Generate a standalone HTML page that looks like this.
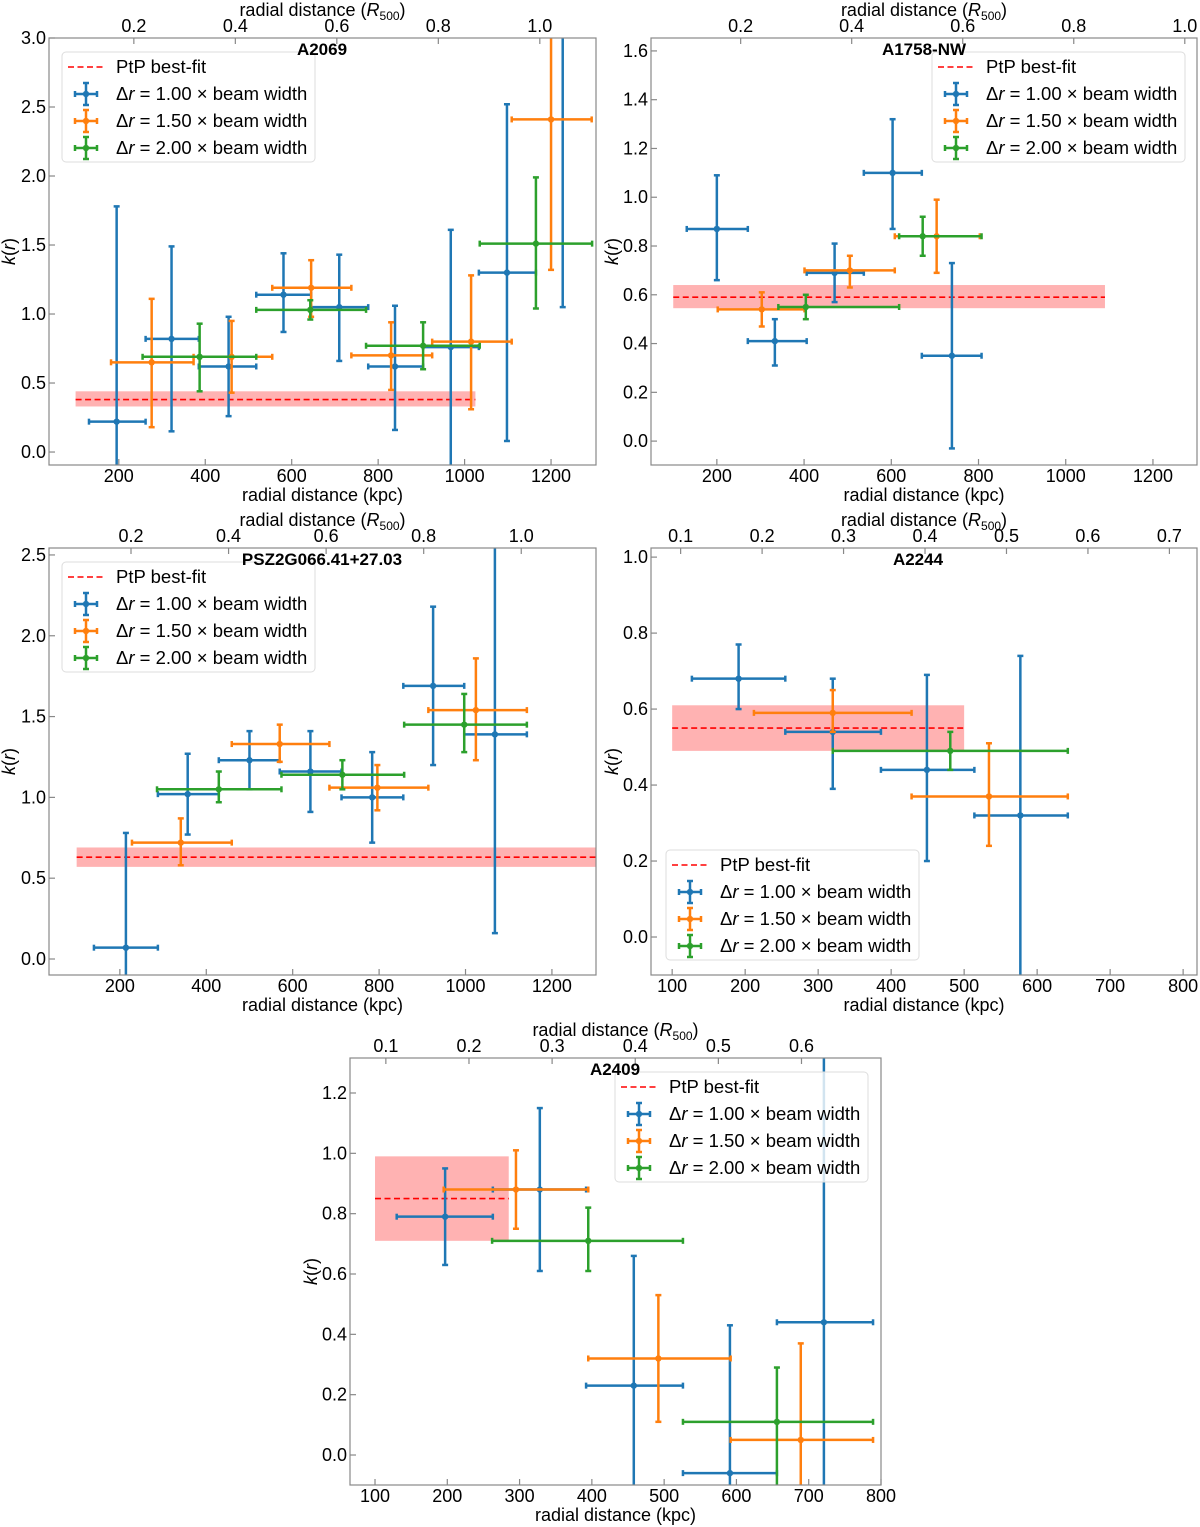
<!DOCTYPE html>
<html><head><meta charset="utf-8">
<style>
html,body{margin:0;padding:0;background:#fff;width:1200px;height:1527px;overflow:hidden;}
svg{display:block;font-family:"Liberation Sans","DejaVu Sans",sans-serif;}
</style></head>
<body>
<svg id="fig" width="1200" height="1527" viewBox="0 0 1200 1527" xmlns="http://www.w3.org/2000/svg"></svg>
<script>
// ---- data: [x, xlo, xhi, y, ylo, yhi] in kpc / k(r) ----
const a2069_blue = [[195,131,262,0.22,-0.5,1.78],[322,262,385,0.82,0.15,1.49],[454,385,518,0.62,0.26,0.98],[581,518,645,1.14,0.87,1.44],[710,645,777,1.05,0.66,1.43],[839,777,904,0.62,0.16,1.06],[968,904,1033,0.76,-0.5,1.61],[1098,1033,1165,1.30,0.08,2.52],[1227,1165,1290,3.3,1.05,4.0]];
const a2069_orange = [[276,182,373,0.65,0.18,1.11],[461,373,555,0.69,0.43,0.95],[645,555,738,1.19,0.98,1.39],[830,738,925,0.70,0.45,0.94],[1015,925,1109,0.80,0.31,1.28],[1200,1109,1294,2.41,1.32,3.5]];
const a2069_green = [[387,255,518,0.69,0.44,0.93],[643,518,772,1.03,0.96,1.10],[904,772,1035,0.77,0.60,0.94],[1165,1035,1295,1.51,1.04,1.99]];
const a2069_fit = [100,1025,0.38,0.33,0.44];

const a1758_blue = [[200,131,271,0.87,0.66,1.09],[333,271,406,0.41,0.31,0.50],[470,406,537,0.69,0.57,0.81],[603,537,670,1.10,0.87,1.32],[739,670,807,0.35,-0.03,0.73]];
const a1758_orange = [[303,202,401,0.54,0.47,0.61],[505,401,608,0.70,0.63,0.76],[704,608,803,0.84,0.69,0.99]];
const a1758_green = [[404,341,618,0.55,0.50,0.60],[672,618,807,0.84,0.76,0.92]];
const a1758_fit = [100,1090,0.59,0.545,0.64];

const psz_blue = [[214,140,288,0.07,-0.5,0.78],[357,288,429,1.02,0.77,1.27],[500,429,570,1.23,1.05,1.41],[641,570,713,1.16,0.91,1.41],[784,713,856,1.00,0.72,1.28],[925,856,997,1.69,1.20,2.18],[1068,997,1142,1.39,0.16,3.0]];
const psz_orange = [[341,228,459,0.72,0.58,0.87],[570,459,685,1.33,1.22,1.45],[796,685,914,1.06,0.92,1.20],[1024,914,1142,1.54,1.23,1.86]];
const psz_green = [[429,286,574,1.05,0.97,1.16],[715,574,858,1.14,1.05,1.23],[997,858,1142,1.45,1.28,1.64]];
const psz_fit = [100,1310,0.63,0.57,0.69];

const a2244_blue = [[191,127,255,0.68,0.60,0.77],[320,255,386,0.54,0.39,0.68],[449,386,514,0.44,0.20,0.69],[577,514,642,0.32,-0.5,0.74]];
const a2244_orange = [[320,212,428,0.59,0.54,0.65],[534,428,642,0.37,0.24,0.51]];
const a2244_green = [[481,320,642,0.49,0.44,0.54]];
const a2244_fit = [100,500,0.55,0.49,0.61];

const a2409_blue = [[197,130,263,0.79,0.63,0.95],[328,263,392,0.88,0.61,1.15],[458,392,526,0.23,-0.5,0.66],[591,526,656,-0.06,-0.5,0.43],[721,656,789,0.44,-0.5,1.5]];
const a2409_orange = [[295,195,395,0.88,0.75,1.01],[492,395,592,0.32,0.11,0.53],[689,592,789,0.05,-0.5,0.37]];
const a2409_green = [[395,262,526,0.71,0.61,0.82],[656,526,789,0.11,-0.5,0.29]];
const a2409_fit = [100,285,0.85,0.71,0.99];

const legendFactors = ["1.00","1.50","2.00"];

const C = {blue:"#1f77b4",orange:"#ff7f0e",green:"#2ca02c"};
const NS = "http://www.w3.org/2000/svg";
const fig = document.getElementById('fig');
function mk(tag, attrs, parent, text){
  const e = document.createElementNS(NS, tag);
  for (const k in attrs) e.setAttribute(k, attrs[k]);
  if (text !== undefined) e.textContent = text;
  (parent||fig).appendChild(e);
  return e;
}

const panels = [
 {id:'a2069',title:'A2069',tx:322,box:[49,38,596,465],xlim:[38.5,1304],ylim:[-0.094,3.0],xt:[200,400,600,800,1000,1200],yt:[0,0.5,1,1.5,2,2.5,3],r500:1174,tt:[0.2,0.4,0.6,0.8,1.0],leg:[62,52],ylx:9,s:[a2069_blue,a2069_orange,a2069_green],fit:a2069_fit},
 {id:'a1758',title:'A1758-NW',tx:924,box:[651,38,1197,465],xlim:[49,1301],ylim:[-0.098,1.653],xt:[200,400,600,800,1000,1200],yt:[0,0.2,0.4,0.6,0.8,1.0,1.2,1.4,1.6],r500:1273,tt:[0.2,0.4,0.6,0.8,1.0],leg:[932,52],ylx:612,s:[a1758_blue,a1758_orange,a1758_green],fit:a1758_fit},
 {id:'psz',title:'PSZ2G066.41+27.03',tx:322,box:[49,548,596,975],xlim:[36,1302],ylim:[-0.099,2.543],xt:[200,400,600,800,1000,1200],yt:[0,0.5,1,1.5,2,2.5],r500:1129,tt:[0.2,0.4,0.6,0.8,1.0],leg:[62,562],ylx:9,s:[psz_blue,psz_orange,psz_green],fit:psz_fit},
 {id:'a2244',title:'A2244',tx:918,box:[651,548,1197,975],xlim:[71,819],ylim:[-0.1,1.024],xt:[100,200,300,400,500,600,700,800],yt:[0,0.2,0.4,0.6,0.8,1.0],r500:1116,tt:[0.1,0.2,0.3,0.4,0.5,0.6,0.7],leg:[666,850],ylx:612,s:[a2244_blue,a2244_orange,a2244_green],fit:a2244_fit},
 {id:'a2409',title:'A2409',tx:615,box:[350,1058,881,1485],xlim:[65.4,800],ylim:[-0.0994,1.316],xt:[100,200,300,400,500,600,700,800],yt:[0,0.2,0.4,0.6,0.8,1.0,1.2],r500:1150,tt:[0.1,0.2,0.3,0.4,0.5,0.6],leg:[615,1072],ylx:311,s:[a2409_blue,a2409_orange,a2409_green],fit:a2409_fit}
];

function seg(g,x1,y1,x2,y2,color){
  const l = mk('line',{x1:x1,y1:y1,x2:x2,y2:y2,stroke:color,'stroke-width':2.5},g);
  
  
  return l;
}

panels.forEach(p=>{
  const [L,T,R,B] = p.box;
  const X = v => L + (v-p.xlim[0])/(p.xlim[1]-p.xlim[0])*(R-L);
  const Y = v => B - (v-p.ylim[0])/(p.ylim[1]-p.ylim[0])*(B-T);
  const cx_ = v => Math.max(L, Math.min(R, X(v)));
  const cy_ = v => Math.max(T, Math.min(B, Y(v)));
  const inX = v => X(v) >= L-0.5 && X(v) <= R+0.5;
  const inY = v => Y(v) >= T-0.5 && Y(v) <= B+0.5;
  const g = mk('g',{});
  
  
  const plot = mk('g',{},g);
  const f = p.fit;
  const bx0 = cx_(f[0]), bx1 = cx_(f[1]);
  const band = mk('rect',{x:bx0,y:cy_(f[4]),width:bx1-bx0,height:cy_(f[3])-cy_(f[4]),fill:'#ff0000','fill-opacity':0.3},plot);
  
  
  const fl = mk('line',{x1:bx0,y1:Y(f[2]),x2:bx1,y2:Y(f[2]),stroke:'#ff0000','stroke-width':1.6,'stroke-dasharray':'6,3.5'},plot);
  
  
  ['blue','orange','green'].forEach((cn,si)=>{
    const col = C[cn];
    const sg = mk('g',{},plot);
    
    
    p.s[si].forEach(d=>{
      const yc = Y(d[3]);
      // horizontal bar
      if (inY(d[3])){
        seg(sg,cx_(d[1]),yc,cx_(d[2]),yc,col);
        if (inX(d[1])) mk('line',{x1:X(d[1]),y1:yc-3,x2:X(d[1]),y2:yc+3,stroke:col,'stroke-width':2.5},sg);
        if (inX(d[2])) mk('line',{x1:X(d[2]),y1:yc-3,x2:X(d[2]),y2:yc+3,stroke:col,'stroke-width':2.5},sg);
      }
      // vertical bar
      const xc = X(d[0]);
      seg(sg,xc,cy_(d[4]),xc,cy_(d[5]),col);
      if (inY(d[4])) mk('line',{x1:xc-3,y1:Y(d[4]),x2:xc+3,y2:Y(d[4]),stroke:col,'stroke-width':2.5},sg);
      if (inY(d[5])) mk('line',{x1:xc-3,y1:Y(d[5]),x2:xc+3,y2:Y(d[5]),stroke:col,'stroke-width':2.5},sg);
      if (inY(d[3])){
        const pt = mk('circle',{cx:xc,cy:yc,r:3.2,fill:col},sg);
        
        
      }
    });
  });
  const fr = mk('rect',{x:L,y:T,width:R-L,height:B-T,fill:'none',stroke:'#888','stroke-width':1.2},g);
  
  
  p.xt.forEach(v=>{
    const x = X(v);
    mk('line',{x1:x,y1:B,x2:x,y2:B-6,stroke:'#888','stroke-width':1.2},g);
    const t = mk('text',{x:x,y:B+17,'font-size':18,'text-anchor':'middle',fill:'#000'},g,String(v));
    
    
  });
  p.yt.forEach(v=>{
    const y = Y(v);
    mk('line',{x1:L,y1:y,x2:L+6,y2:y,stroke:'#888','stroke-width':1.2},g);
    const t = mk('text',{x:L-3,y:y+6,'font-size':18,'text-anchor':'end',fill:'#000'},g,v.toFixed(1));
    
    
  });
  p.tt.forEach(v=>{
    const x = X(v*p.r500);
    mk('line',{x1:x,y1:T,x2:x,y2:T+6,stroke:'#888','stroke-width':1.2},g);
    const t = mk('text',{x:x,y:T-6,'font-size':18,'text-anchor':'middle',fill:'#000'},g,v.toFixed(1));
    
    
  });
  const cx = (L+R)/2;
  const xl = mk('text',{x:cx,y:B+36,'font-size':18,'text-anchor':'middle'},g,'radial distance (kpc)');
  
  
  const tl = mk('text',{x:cx,y:T-22,'font-size':18,'text-anchor':'middle'},g);
  
  
  mk('tspan',{},tl,'radial distance (');
  mk('tspan',{'font-style':'italic'},tl,'R');
  mk('tspan',{'font-size':12,dy:4},tl,'500');
  mk('tspan',{dy:-4},tl,')');
  const yl = mk('text',{x:0,y:0,'font-size':18,'text-anchor':'middle',transform:'translate('+(p.ylx+6)+','+((T+B)/2)+') rotate(-90)'},g);
  
  
  mk('tspan',{'font-style':'italic'},yl,'k');
  mk('tspan',{},yl,'(');
  mk('tspan',{'font-style':'italic'},yl,'r');
  mk('tspan',{},yl,')');
  const [lx,ly] = p.leg;
  const lg = mk('g',{},g);
  
  
  mk('rect',{x:lx,y:ly,width:253,height:110,rx:4,fill:'#fff','fill-opacity':0.8,stroke:'#ddd','stroke-width':1},lg);
  mk('line',{x1:lx+6,y1:ly+15,x2:lx+42,y2:ly+15,stroke:'#ff0000','stroke-width':1.6,'stroke-dasharray':'6,3.5'},lg);
  const t0 = mk('text',{x:lx+54,y:ly+21,'font-size':18.5},lg,'PtP best-fit');
  
  
  ['blue','orange','green'].forEach((cn,i)=>{
    const yy = ly+15+(i+1)*27;
    const c=C[cn], mx=lx+24;
    seg(lg,mx-11,yy,mx+11,yy,c);
    mk('line',{x1:mx-11,y1:yy-3,x2:mx-11,y2:yy+3,stroke:c,'stroke-width':2.5},lg);
    mk('line',{x1:mx+11,y1:yy-3,x2:mx+11,y2:yy+3,stroke:c,'stroke-width':2.5},lg);
    seg(lg,mx,yy-11,mx,yy+11,c);
    mk('line',{x1:mx-3,y1:yy-11,x2:mx+3,y2:yy-11,stroke:c,'stroke-width':2.5},lg);
    mk('line',{x1:mx-3,y1:yy+11,x2:mx+3,y2:yy+11,stroke:c,'stroke-width':2.5},lg);
    mk('circle',{cx:mx,cy:yy,r:3.2,fill:c},lg);
    const t = mk('text',{x:lx+54,y:yy+6,'font-size':18.5},lg);
    
    
    mk('tspan',{},t,'Δ');
    mk('tspan',{'font-style':'italic'},t,'r');
    mk('tspan',{},t,' = '+legendFactors[i]+' × beam width');
  });
  const ti = mk('text',{x:p.tx,y:T+17,'font-size':17,'font-weight':'bold','text-anchor':'middle'},g,p.title);
  
  
});
</script>
</body></html>
